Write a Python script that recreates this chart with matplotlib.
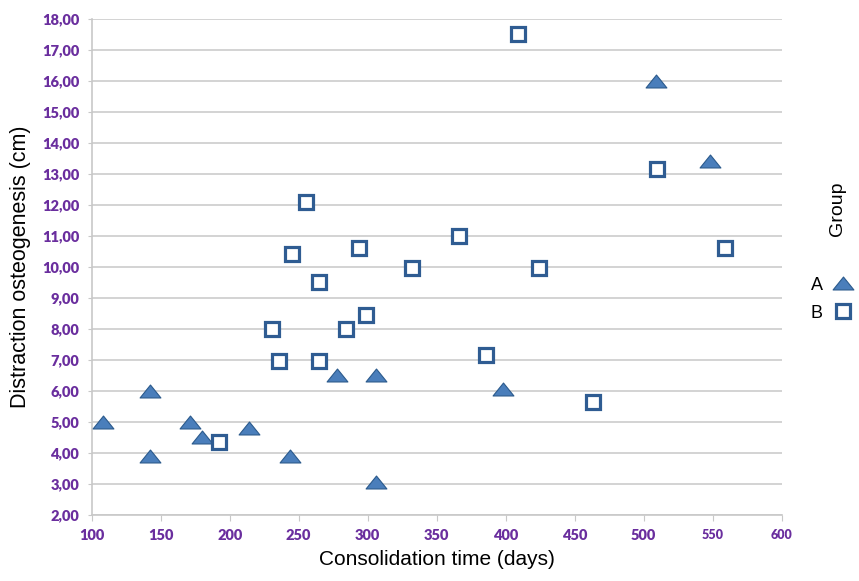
import matplotlib.pyplot as plt
from matplotlib.path import Path
from matplotlib.ticker import FuncFormatter, MultipleLocator
import numpy as np

# -----------------------------
# Данные (читаются с картинки)
# -----------------------------
group_a_days = [108, 142, 142, 171, 180, 214, 244, 278, 306, 306, 398, 509, 548]
group_a_cm = [5.0, 6.0, 3.9, 5.0, 4.5, 4.8, 3.9, 6.5, 6.5, 3.05, 6.05, 16.0, 13.4]

group_b_days = [192, 231, 236, 255, 245, 294, 332, 265, 299, 284, 265,
                409, 510, 366, 424, 559, 386, 463]
group_b_cm = [4.35, 8.0, 6.95, 12.1, 10.4, 10.6, 9.95, 9.5, 8.45, 8.0, 6.95,
              17.5, 13.15, 11.0, 9.95, 10.6, 7.15, 5.65]

x_ticks = [100, 150, 200, 250, 300, 350, 400, 450, 500, 550, 600]

purple = '#6A2E9E'
blue_fill = '#4A7EBB'
blue_edge = '#2B5A8C'
square_edge = '#2F5C92'

# плоский треугольник как в Excel
tri = Path([(-1.0, -0.62), (1.0, -0.62), (0.0, 0.62), (-1.0, -0.62)],
           [Path.MOVETO, Path.LINETO, Path.LINETO, Path.CLOSEPOLY])

fig = plt.figure(figsize=(8.59, 5.81), dpi=100)
ax = fig.add_axes([0.1067, 0.1136, 0.9100 - 0.1067, 0.9678 - 0.1136])

ax.plot(group_a_days, group_a_cm, linestyle='none', marker=tri, markersize=15,
        markerfacecolor=blue_fill, markeredgecolor=blue_edge, markeredgewidth=0.8,
        label='A', zorder=3, clip_on=False)
ax.plot(group_b_days, group_b_cm, linestyle='none', marker='s', markersize=9.5,
        markerfacecolor='white', markeredgecolor=square_edge, markeredgewidth=2.3,
        label='B', zorder=3, clip_on=False)

ax.set_xlim(100, 600)
ax.set_ylim(2, 18)
ax.set_xticks(x_ticks)
ax.yaxis.set_major_locator(MultipleLocator(1))
ax.yaxis.set_major_formatter(FuncFormatter(lambda v, p: f'{v:.2f}'.replace('.', ',')))

ax.grid(axis='y', color='#D3D3D3', linewidth=1.4)
ax.set_axisbelow(True)
for s in ['top', 'right']:
    ax.spines[s].set_visible(False)
for s in ['left', 'bottom']:
    ax.spines[s].set_color('#C8C8C8')
    ax.spines[s].set_linewidth(1.2)

ax.tick_params(axis='y', length=3, color='#C8C8C8', pad=6)
ax.tick_params(axis='x', length=4, color='#C8C8C8', pad=6)
for lbl in ax.get_yticklabels() + ax.get_xticklabels():
    lbl.set_fontfamily('Lato')
    lbl.set_fontweight('heavy')
    lbl.set_fontsize(10.5)
    lbl.set_color(purple)
# 550 и 600 на оригинале чуть мельче
for lbl in ax.get_xticklabels()[-2:]:
    lbl.set_fontsize(9)

ax.set_xlabel('Consolidation time (days)', fontfamily='Liberation Sans',
              fontsize=15, labelpad=6)
ax.set_ylabel('Distraction osteogenesis (cm)', fontfamily='Liberation Sans',
              fontsize=15.5, labelpad=8)

# легенда справа
fig.text(0.975, 0.64, 'Group', rotation=90, ha='center', va='center',
         fontfamily='Liberation Sans', fontsize=14)
ax.legend(loc='center left', bbox_to_anchor=(0.925, 0.485),
          bbox_transform=fig.transFigure, frameon=False, markerfirst=False,
          prop={'family': 'Liberation Sans', 'size': 13}, handletextpad=0.5,
          labelspacing=0.6, handlelength=1.2)

plt.savefig('out.png', dpi=100)
